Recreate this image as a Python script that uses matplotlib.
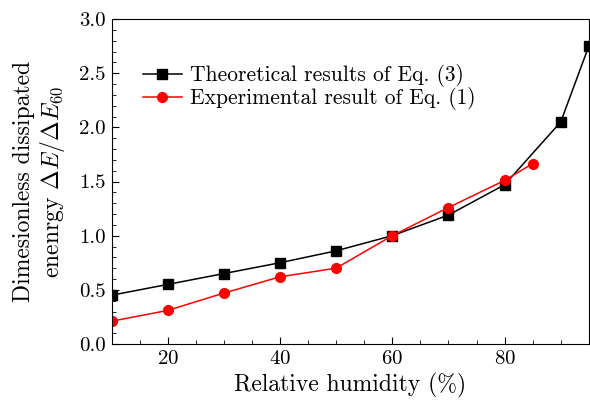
import numpy as np
import matplotlib.pyplot as plt
from matplotlib.ticker import MultipleLocator

plt.rcParams['font.family'] = 'cmr10'
plt.rcParams['mathtext.fontset'] = 'cm'
plt.rcParams['axes.formatter.use_mathtext'] = True

# theoretical, Eq. (3)
rh_theory = [10, 20, 30, 40, 50, 60, 70, 80, 90, 95]
e_theory = [0.45, 0.55, 0.65, 0.75, 0.86, 1.0, 1.19, 1.47, 2.05, 2.75]

# experimental, Eq. (1)
rh_exp = [10, 20, 30, 40, 50, 60, 70, 80, 85]
e_exp = [0.21, 0.31, 0.47, 0.62, 0.70, 1.0, 1.26, 1.51, 1.665]

fig = plt.figure(figsize=(5.9, 4.0), dpi=100)
ax = fig.add_axes([0.189, 0.14, 0.809, 0.8125])

ax.plot(rh_theory, e_theory, color='black', marker='s', markersize=6.5,
        linewidth=1.1, label='Theoretical results of Eq. (3)')
ax.plot(rh_exp, e_exp, color='red', marker='o', markersize=7,
        linewidth=1.1, label='Experimental result of Eq. (1)')

ax.set_xlim(10, 95)
ax.set_ylim(0, 3.0)
ax.xaxis.set_major_locator(MultipleLocator(20))
ax.xaxis.set_minor_locator(MultipleLocator(5))
ax.yaxis.set_major_locator(MultipleLocator(0.5))
ax.yaxis.set_minor_locator(MultipleLocator(0.1))
ax.yaxis.set_major_formatter(plt.FuncFormatter(lambda v, p: f"{v:.1f}"))
ax.tick_params(which='both', direction='in', top=False, right=False, labelsize=15)
ax.tick_params(which='major', length=5, pad=4)
ax.tick_params(which='minor', length=3)

ax.set_xlabel('Relative humidity (%)', fontsize=17, labelpad=4)
ax.set_ylabel('Dimesionless dissipated\nenenrgy $\\Delta E/\\Delta E_{60}$',
              fontsize=17, labelpad=9, linespacing=1.15)

ax.legend(loc='upper left', bbox_to_anchor=(0.025, 0.92), frameon=False,
          fontsize=15.5, handlelength=1.8, handletextpad=0.4, labelspacing=0.0)

fig.savefig('out.png', dpi=100)
